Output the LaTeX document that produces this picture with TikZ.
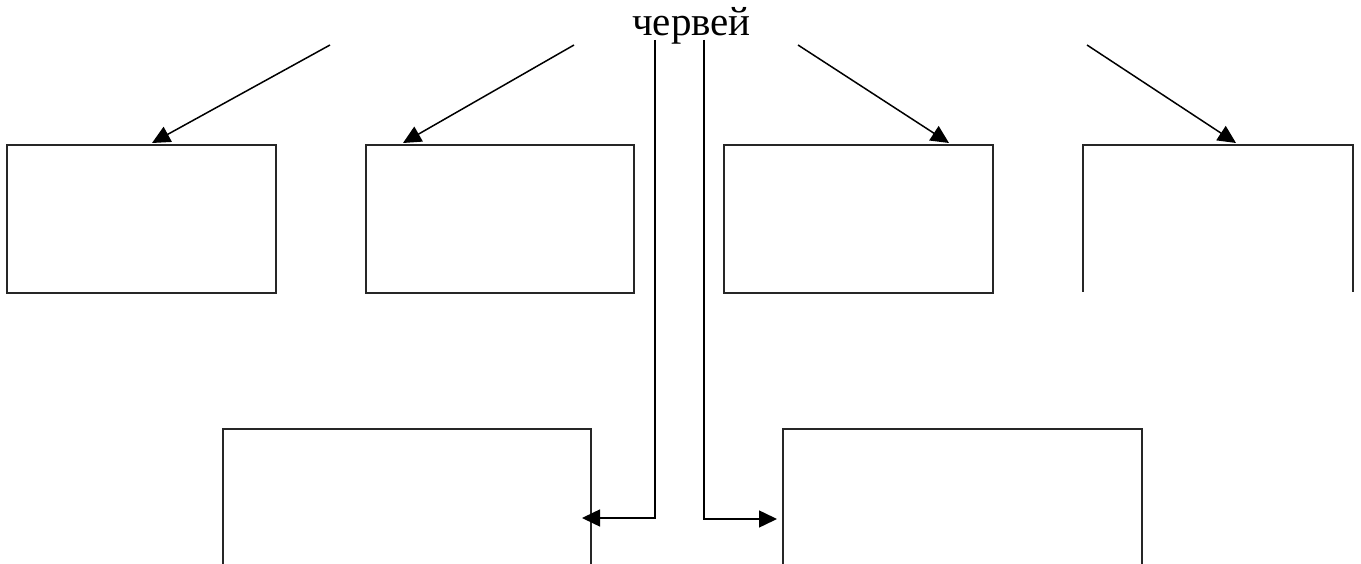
\documentclass[tikz,border=0pt]{standalone}
\usepackage{fontspec}
\setmainfont{Liberation Serif}
\usetikzlibrary{arrows.meta}
\begin{document}
\begin{tikzpicture}[x=1pt,y=-1pt,
  boxline/.style={draw=black!85,line width=1.4pt},
  conn/.style={draw=black,line width=1.5pt},
  arr/.style={conn,-{Triangle[length=18pt,width=17pt]}},
  lbl/.style={font=\fontsize{41}{45}\selectfont,anchor=base,inner sep=0pt}]
\useasboundingbox (0,0) rectangle (1361,564);
\fill[white] (0,0) rectangle (1361,564);
% label
\node[lbl] (title) at (691.5,36) {червей};
% top boxes
\draw[boxline] (7,145) rectangle (276,293);
\draw[boxline] (366,145) rectangle (634,293);
\draw[boxline] (724,145) rectangle (993,293);
\draw[boxline] (1083,292) -- (1083,145) -- (1353,145) -- (1353,292);
% bottom boxes (cut by the lower edge)
\draw[boxline] (223,564) -- (223,429) -- (591,429) -- (591,564);
\draw[boxline] (783,564) -- (783,429) -- (1142,429) -- (1142,564);
% named coordinates for connectors
\coordinate (s1) at (330,45);  \coordinate (t1) at (152,143);
\coordinate (s2) at (574,45);  \coordinate (t2) at (403,143);
\coordinate (s3) at (798,45);  \coordinate (t3) at (949,143);
\coordinate (s4) at (1087,45); \coordinate (t4) at (1236,143);
\draw[arr] (s1) -- (t1);
\draw[arr] (s2) -- (t2);
\draw[arr] (s3) -- (t3);
\draw[arr] (s4) -- (t4);
% vertical lines and side arrows
\coordinate (v1) at (655,40); \coordinate (c1) at (655,518); \coordinate (e1) at (582,518);
\coordinate (v2) at (704,40); \coordinate (c2) at (704,519); \coordinate (e2) at (777,519);
\draw[arr] (v1) -- (c1) -- (e1);
\draw[arr] (v2) -- (c2) -- (e2);
\end{tikzpicture}
\end{document}
